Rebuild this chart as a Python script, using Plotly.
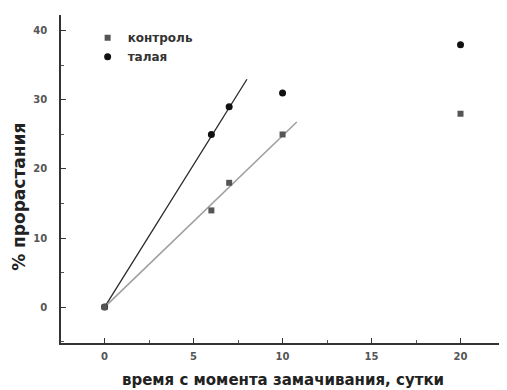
import plotly.graph_objects as go

days = [0, 6, 7, 10, 20]
control = [0, 14, 18, 25, 28]
melt = [0, 25, 29, 31, 38]

fit_melt_x = [0, 8.0]
fit_melt_y = [0, 33.0]
fit_ctrl_x = [0, 10.8]
fit_ctrl_y = [0, 26.8]

x_ticks = [0, 5, 10, 15, 20]
y_ticks = [0, 10, 20, 30, 40]

fig = go.Figure()
fig.add_trace(go.Scatter(x=fit_melt_x, y=fit_melt_y, mode="lines",
                         line=dict(color="#2a2a2a", width=1.3), showlegend=False, hoverinfo="skip"))
fig.add_trace(go.Scatter(x=fit_ctrl_x, y=fit_ctrl_y, mode="lines",
                         line=dict(color="#a0a0a0", width=1.6), showlegend=False, hoverinfo="skip"))
fig.add_trace(go.Scatter(x=days, y=melt, mode="markers", name="талая", legendrank=2,
                         marker=dict(symbol="circle", size=7, color="#111111")))
fig.add_trace(go.Scatter(x=days, y=control, mode="markers", name="контроль", legendrank=1,
                         marker=dict(symbol="square", size=6, color="#555555")))

axis_font = dict(family="DejaVu Sans, sans-serif", size=10, color="#555555", weight="bold")
title_font = dict(family="DejaVu Sans, sans-serif", size=15, color="#222222", weight="bold")

fig.update_layout(
    width=499, height=382,
    margin=dict(l=53, r=2, t=7, b=47),
    plot_bgcolor="white", paper_bgcolor="white",
    showlegend=True,
    legend=dict(x=0.06, y=0.975, xanchor="left", yanchor="top",
                font=dict(family="DejaVu Sans, sans-serif", size=12, color="#333333", weight="bold"),
                bgcolor="rgba(0,0,0,0)", itemwidth=30, tracegroupgap=0),
    xaxis=dict(range=[-2.45, 22.5], tickvals=x_ticks, ticks="inside", ticklen=5,
               tickcolor="#333", showline=True, linecolor="#333", linewidth=1.5,
               showgrid=False, zeroline=False, tickfont=axis_font, automargin=False,
               ticklabelstandoff=3,
               minor=dict(tickvals=[2.5, 7.5, 12.5, 17.5, 22.5], ticks="inside", ticklen=3, tickcolor="#555"),
               title=dict(text="время с момента замачивания, сутки", font=title_font, standoff=14)),
    yaxis=dict(range=[-5.2, 42.3], tickvals=y_ticks, ticks="inside", ticklen=5,
               tickcolor="#333", showline=True, linecolor="#333", linewidth=1.5,
               showgrid=False, zeroline=False, tickfont=axis_font, automargin=False,
               ticklabelstandoff=10,
               minor=dict(tickvals=[-5, 5, 15, 25, 35], ticks="inside", ticklen=3, tickcolor="#555")),
    annotations=[dict(text="% прорастания", textangle=-90, xref="paper", yref="paper",
                      x=-0.095, y=0.445, xanchor="center", yanchor="middle", showarrow=False,
                      font=dict(family="DejaVu Sans, sans-serif", size=17, color="#222222", weight="bold"))],
)

fig.write_html("out.html")
